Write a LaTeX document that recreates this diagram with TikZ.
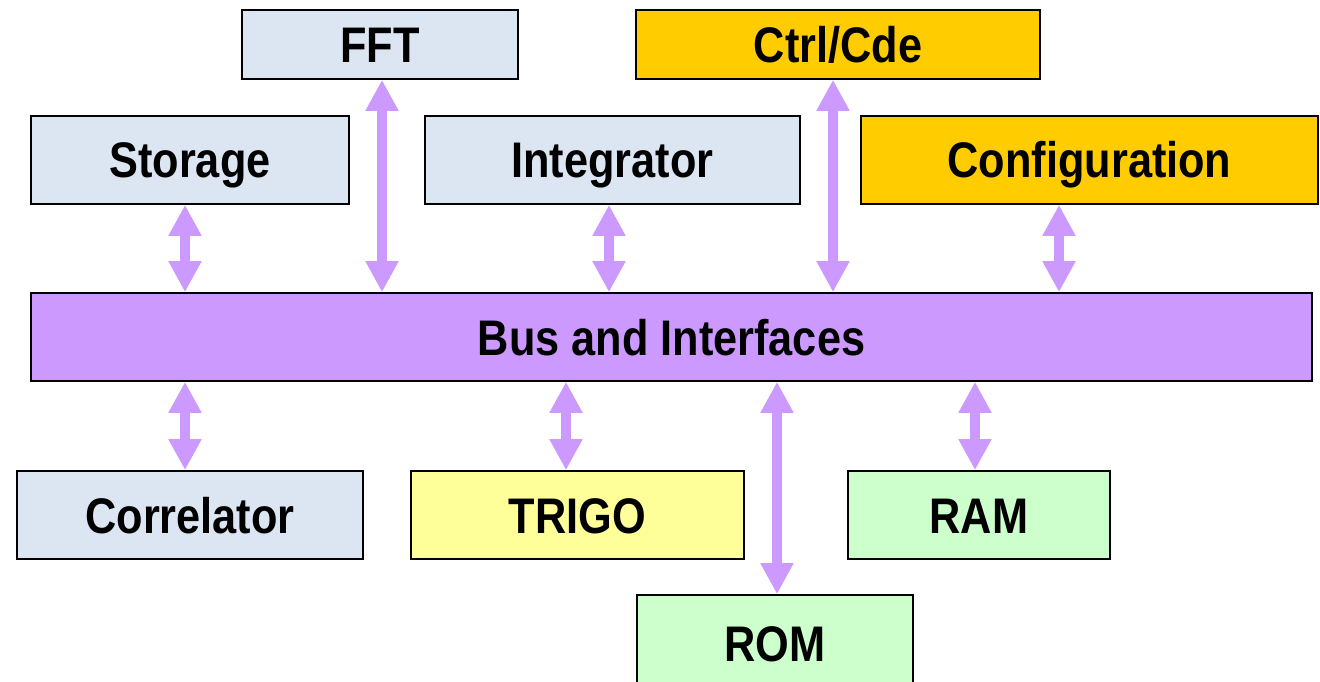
\documentclass[tikz,border=0pt]{standalone}
\usepackage{fontspec}
\setmainfont[FakeStretch=0.866]{Liberation Sans}
\usetikzlibrary{arrows.meta}

\definecolor{blockblue}{HTML}{DCE6F2}
\definecolor{buspurple}{HTML}{CC99FF}
\definecolor{ctrlgold}{HTML}{FFCC00}
\definecolor{trigoyellow}{HTML}{FFFF99}
\definecolor{memgreen}{HTML}{CCFFCC}

\tikzset{
  block/.style={draw=black, line width=1.6pt, rectangle, inner sep=0pt,
    font=\fontsize{50}{60}\selectfont\bfseries,
    text height=36pt, text depth=0pt, align=center},
  link/.style={draw=buspurple, line width=10pt,
    {Triangle[width=31pt,length=31pt]}-{Triangle[width=31pt,length=31pt]}},
}

\begin{document}
\begin{tikzpicture}[x=1pt, y=-1pt]
  \useasboundingbox (0,0) rectangle (1320,682);

  % top row
  \node[block, fill=blockblue, minimum width=276pt, minimum height=69pt] (fft) at (380,44.5) {FFT};
  \node[block, fill=ctrlgold, minimum width=404pt, minimum height=69pt] (ctrl) at (838,44.5) {Ctrl/Cde};

  % second row
  \node[block, fill=blockblue, minimum width=318pt, minimum height=88pt] (stor) at (190,160) {Storage};
  \node[block, fill=blockblue, minimum width=375pt, minimum height=88pt] (integ) at (612.5,160) {Integrator};
  \node[block, fill=ctrlgold, minimum width=457pt, minimum height=88pt] (conf) at (1089.5,160) {Configuration};

  % bus
  \node[block, fill=buspurple, minimum width=1281pt, minimum height=88pt] (bus) at (671.5,337) {Bus and Interfaces};

  % lower row
  \node[block, fill=blockblue, minimum width=346pt, minimum height=88pt] (corr) at (190,515) {Correlator};
  \node[block, fill=trigoyellow, minimum width=333pt, minimum height=88pt] (trigo) at (577.5,515) {TRIGO};
  \node[block, fill=memgreen, minimum width=262pt, minimum height=88pt] (ram) at (979,515) {RAM};
  \node[block, fill=memgreen, minimum width=276pt, minimum height=96pt] (rom) at (775,643) {ROM};

  % links to the bus
  \draw[link] (stor.south -| 185,0) -- (bus.north -| 185,0);
  \draw[link] (fft.south -| 382,0) -- (bus.north -| 382,0);
  \draw[link] (integ.south -| 609,0) -- (bus.north -| 609,0);
  \draw[link] (ctrl.south -| 833,0) -- (bus.north -| 833,0);
  \draw[link] (conf.south -| 1059,0) -- (bus.north -| 1059,0);
  \draw[link] (bus.south -| 185,0) -- (corr.north -| 185,0);
  \draw[link] (bus.south -| 566,0) -- (trigo.north -| 566,0);
  \draw[link] (bus.south -| 777,0) -- (rom.north -| 777,0);
  \draw[link] (bus.south -| 975,0) -- (ram.north -| 975,0);
\end{tikzpicture}
\end{document}
